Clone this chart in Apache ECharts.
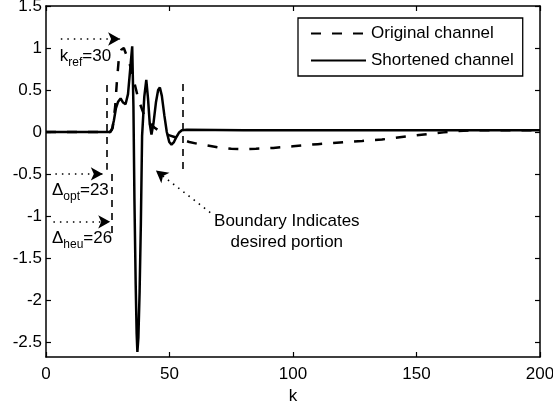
<!DOCTYPE html>
<html>
<head>
<meta charset="utf-8">
<script src="https://cdn.jsdelivr.net/npm/echarts@6/dist/echarts.min.js"></script>
<style>
html,body{margin:0;padding:0;background:#fff;}
#c{width:553px;height:407px;}
</style>
</head>
<body>
<div id="c"></div>
<script>
// ---- data ----
const xTicks = [0, 50, 100, 150, 200];
const yTicks = [-2.5, -2, -1.5, -1, -0.5, 0, 0.5, 1, 1.5];
const seriesNames = ['Original channel', 'Shortened channel'];

const kOriginal = [0, 26, 27, 28, 28.7, 29.5, 30.5, 31.5, 32.5, 33.5, 34.5, 35.5, 36.5, 37.5, 38.5, 40, 42, 44, 46, 48, 50, 52, 54, 56, 58, 62, 66, 70, 75, 80, 85, 92, 100, 110, 119, 128, 136, 144, 153, 161, 167, 172, 200];
const yOriginal = [0, 0, 0.05, 0.3, 0.6, 0.88, 0.98, 1.0, 0.92, 0.84, 0.75, 0.62, 0.5, 0.38, 0.3, 0.18, 0.1, 0.05, 0.01, -0.02, -0.04, -0.06, -0.08, -0.1, -0.12, -0.145, -0.165, -0.185, -0.2, -0.205, -0.2, -0.19, -0.17, -0.145, -0.125, -0.107, -0.09, -0.06, -0.03, -0.005, 0.01, 0.02, 0.02];

const kShort = [0, 26, 26.7, 27.5, 28.3, 29.2, 30.2, 31.2, 32.2, 33.2, 34.1, 34.9, 35.4, 35.8, 36.3, 36.7, 37.0, 37.4, 37.9, 38.4, 38.9, 39.8, 40.6, 41.3, 42, 42.7, 43.5, 44.5, 45.4, 46.1, 46.9, 47.9, 48.9, 49.9, 50.8, 51.8, 52.8, 53.8, 55, 57, 80, 120, 160, 200];
const yShort = [0, 0, 0.03, 0.14, 0.28, 0.36, 0.40, 0.35, 0.33, 0.45, 0.75, 1.02, 0.3, -0.8, -1.8, -2.4, -2.62, -2.45, -1.9, -1.1, -0.05, 0.42, 0.62, 0.4, 0.1, -0.03, 0.1, 0.35, 0.5, 0.53, 0.43, 0.2, 0.0, -0.12, -0.15, -0.12, -0.06, -0.01, 0.02, 0.025, 0.02, 0.02, 0.02, 0.02];

// boundary (vertical dashed) lines: [k, yTop, yBottom]
const boundaries = [[24.5, 0.56, -0.45], [26.5, -0.5, -1.22], [55.5, 0.57, -0.5]];
// dotted arrows: [kFrom, yFrom, kTo, yTo]
const arrows = [[6, 1.107, 30, 1.107], [3.8, -0.5, 23, -0.5], [3, -1.07, 26, -1.07], [66.5, -0.96, 44.5, -0.46]];
// text annotations: [k, y, main, sub, rest]
const notes = [[5.6, 0.9, 'k', 'ref', '=30'], [2.4, -0.7, '\u0394', 'opt', '=23'], [2.4, -1.27, '\u0394', 'heu', '=26']];
const boundaryNote = [97.5, -1.19, 'Boundary Indicates\ndesired portion'];

const FONT = 'Liberation Sans';
const zip = (a, b) => a.map((v, i) => [v, b[i]]);

const chart = echarts.init(document.getElementById('c'), null, {renderer: 'canvas'});

const axisLine = {show: true, onZero: false, lineStyle: {color: '#000', width: 1.5}};
const tickStyle = {color: '#000', width: 1.2};

const option = {
  animation: false,
  backgroundColor: '#fff',
  grid: {left: 46, right: 13, top: 6, bottom: 50, containLabel: false, outerBoundsMode: 'none'},
  legend: {
    data: seriesNames,
    orient: 'vertical',
    left: 298, top: 18,
    itemWidth: 55, itemHeight: 14, itemGap: 10,
    padding: [7, 9, 7, 12],
    borderColor: '#000', borderWidth: 1.3,
    backgroundColor: '#fff',
    itemStyle: {opacity: 0},
    textStyle: {fontFamily: FONT, fontSize: 17, color: '#000'}
  },
  xAxis: [{
    type: 'value', min: 0, max: 200, interval: 50, position: 'bottom',
    name: 'k', nameLocation: 'middle', nameGap: 29,
    nameTextStyle: {fontFamily: FONT, fontSize: 17, color: '#000'},
    axisLine: axisLine,
    axisTick: {show: true, inside: true, length: 5, lineStyle: tickStyle},
    axisLabel: {fontFamily: FONT, fontSize: 17, color: '#000', margin: 9},
    splitLine: {show: false}
  }, {
    type: 'value', min: 0, max: 200, interval: 50, position: 'top',
    axisLine: axisLine,
    axisTick: {show: true, inside: true, length: 5, lineStyle: tickStyle},
    axisLabel: {show: false}, splitLine: {show: false}
  }],
  yAxis: [{
    type: 'value', min: -2.68, max: 1.5, position: 'left',
    axisLine: axisLine,
    axisTick: {show: true, inside: true, length: 5, lineStyle: tickStyle, customValues: yTicks},
    axisLabel: {fontFamily: FONT, fontSize: 17, color: '#000', margin: 4, customValues: yTicks},
    splitLine: {show: false}
  }, {
    type: 'value', min: -2.68, max: 1.5, position: 'right',
    axisLine: axisLine,
    axisTick: {show: true, inside: true, length: 5, lineStyle: tickStyle, customValues: yTicks},
    axisLabel: {show: false}, splitLine: {show: false}
  }],
  series: [{
    name: seriesNames[0], type: 'line', data: zip(kOriginal, yOriginal),
    symbol: 'none', smooth: false,
    lineStyle: {color: '#000', width: 2.5, type: [10, 11]},
    itemStyle: {color: '#000'}, z: 2
  }, {
    name: seriesNames[1], type: 'line', data: zip(kShort, yShort),
    symbol: 'none', smooth: false,
    lineStyle: {color: '#000', width: 2.5, type: 'solid'},
    itemStyle: {color: '#000'}, z: 3
  }, {
    name: 'annot', type: 'scatter', symbolSize: 0, z: 5,
    itemStyle: {opacity: 1, color: '#000'},
    data: notes.map(n => ({value: [n[0], n[1]], main: n[2], sub: n[3], rest: n[4]})),
    label: {
      show: true, position: 'right', distance: 0, opacity: 1,
      formatter: p => '{a|' + p.data.main + '}{s|' + p.data.sub + '}{a|' + p.data.rest + '}',
      rich: {
        a: {fontFamily: FONT, fontSize: 17, color: '#000', lineHeight: 18},
        s: {fontFamily: FONT, fontSize: 12, color: '#000', lineHeight: 12, padding: [12, 0, 0, 0]}
      }
    },
    markLine: {
      silent: true, animation: false,
      label: {show: false},
      data: [
        ...boundaries.map(b => [
          {coord: [b[0], b[1]], symbol: 'none', lineStyle: {color: '#000', width: 1.6, type: [7, 6], opacity: 1}},
          {coord: [b[0], b[2]], symbol: 'none'}
        ]),
        ...arrows.map(a => [
          {coord: [a[0], a[1]], symbol: 'none', lineStyle: {color: '#000', width: 1.6, type: [1.5, 5], opacity: 1}},
          {coord: [a[2], a[3]], symbol: 'arrow', symbolSize: [10, 12]}
        ])
      ]
    }
  }, {
    name: 'annot2', type: 'scatter', symbolSize: 0, z: 5,
    itemStyle: {opacity: 1, color: '#000'},
    data: [{value: [boundaryNote[0], boundaryNote[1]], txt: boundaryNote[2]}],
    label: {
      show: true, position: 'inside', opacity: 1,
      formatter: p => p.data.txt,
      fontFamily: FONT, fontSize: 17, color: '#000', lineHeight: 21, align: 'center'
    }
  }]
};
chart.setOption(option);
</script>
</body>
</html>
